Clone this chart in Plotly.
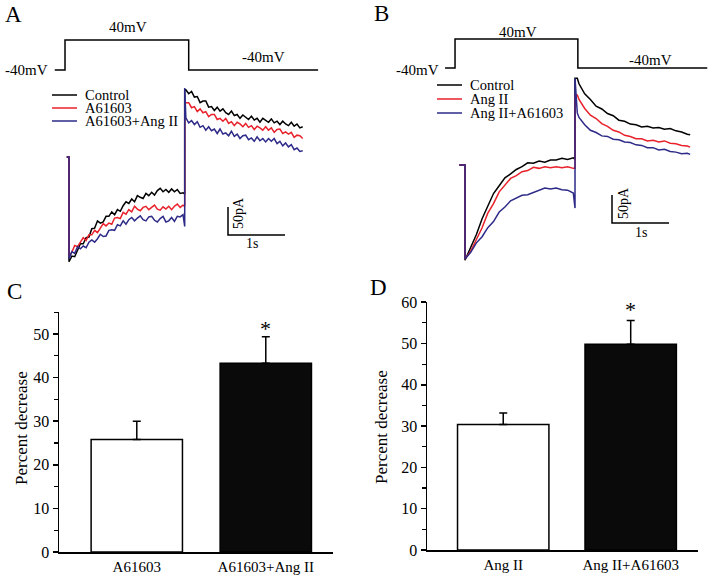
import plotly.graph_objects as go

# ---------------- Panel A data (time in s, current in pA) ----------------
A_names = ["Control", "A61603", "A61603+Ang II"]
A_hold_t = [-0.04, 0.0]
A_step_t = [0.00, 0.05, 0.10, 0.15, 0.20, 0.25, 0.30, 0.35, 0.40, 0.45,
            0.50, 0.55, 0.60, 0.65, 0.70, 0.75, 0.80, 0.85, 0.90, 0.95,
            1.00, 1.05, 1.10, 1.15, 1.20, 1.25, 1.30, 1.35, 1.40, 1.45,
            1.50, 1.55, 1.60, 1.65, 1.70, 1.75, 1.80, 1.85, 1.90, 1.95, 2.00]
A_step_end_t = 2.03
A_tail_t = [2.05, 2.10, 2.15, 2.20, 2.25, 2.30, 2.35, 2.40, 2.45, 2.50,
            2.55, 2.60, 2.65, 2.70, 2.75, 2.80, 2.85, 2.90, 2.95, 3.00,
            3.05, 3.10, 3.15, 3.20, 3.25, 3.30, 3.35, 3.40, 3.45, 3.50,
            3.55, 3.60, 3.65, 3.70, 3.75, 3.80, 3.85, 3.90, 3.95, 4.00,
            4.05, 4.10]
A_ctrl_step = [-187, -177, -178, -165, -155, -155, -144, -143, -128, -127,
               -114, -118, -116, -106, -106, -98, -103, -94, -97, -87,
               -80, -83, -75, -80, -69, -72, -74, -65, -69, -63,
               -68, -60, -56, -62, -58, -63, -57, -62, -58, -65, -64]
A_red_step = [-178, -170, -158, -160, -152, -144, -149, -139, -139, -131,
              -135, -126, -119, -123, -118, -120, -109, -108, -110, -99,
              -102, -94, -98, -88, -93, -96, -90, -88, -94, -90,
              -86, -93, -95, -89, -93, -88, -94, -88, -84, -90, -86]
A_blue_step = [-182, -169, -172, -160, -164, -159, -162, -152, -148, -152,
               -146, -138, -142, -141, -131, -130, -131, -121, -123, -114,
               -120, -112, -108, -114, -109, -105, -112, -114, -107, -106,
               -113, -116, -110, -106, -116, -114, -108, -115, -106, -107, -103]
A_ctrl_tail = [120, 113, 117, 107, 108, 97, 100, 100, 89, 90,
               83, 89, 82, 86, 79, 76, 82, 74, 76, 69,
               75, 71, 67, 73, 66, 69, 62, 69, 66, 62,
               68, 61, 64, 58, 64, 59, 56, 62, 55, 59,
               52, 54]
A_red_tail = [97, 97, 88, 90, 81, 86, 79, 81, 72, 76,
              76, 67, 69, 64, 69, 60, 63, 56, 62, 59,
              54, 60, 53, 56, 49, 55, 52, 48, 54, 48,
              52, 44, 49, 50, 42, 45, 41, 44, 35, 39,
              38, 33]
A_blue_tail = [70, 61, 65, 58, 63, 53, 56, 48, 54, 47,
               50, 42, 50, 41, 43, 38, 46, 37, 41, 33,
               38, 39, 31, 34, 28, 36, 29, 33, 27, 33,
               28, 33, 24, 28, 20, 25, 18, 22, 13, 16,
               10, 11]
A_spikes = [(-66, 120), (-88, 98), (-124, 123)]
A_volt_t = [-0.25, -0.07, -0.07, 2.10, 2.10, 4.37]
A_volt_mV = [-40, -40, 40, 40, -40, -40]

# ---------------- Panel B data ----------------
B_names = ["Control", "Ang II", "Ang II+A61603"]
B_hold_t = [-0.10, 0.0]
B_step_t = [0.0, 0.1, 0.2, 0.3, 0.4, 0.5, 0.6, 0.7, 0.8, 0.9,
            1.0, 1.1, 1.2, 1.3, 1.4, 1.5, 1.6, 1.7, 1.8, 1.9]
B_step_end_t = 1.93
B_tail_t = [1.97, 2.0, 2.1, 2.2, 2.3, 2.4, 2.5, 2.6, 2.7, 2.8, 2.9,
            3.0, 3.1, 3.2, 3.3, 3.4, 3.5, 3.6, 3.7, 3.8, 3.9, 3.95]
B_ctrl_step = [-170, -146, -124, -96, -75, -51, -37, -23, -16, -8,
               -3, 4, 3, 7, 5, 9, 9, 12, 10, 13]
B_red_step = [-168, -154, -133, -112, -86, -69, -48, -35, -24, -19,
              -12, -10, -4, -6, -3, -5, -3, -5, -3, -6]
B_blue_step = [-168, -156, -139, -128, -112, -101, -84, -75, -64, -59,
               -54, -53, -49, -46, -41, -43, -41, -44, -45, -50]
B_ctrl_tail = [155, 145, 127, 117, 105, 100, 92, 88, 80, 78, 73,
               72, 68, 69, 66, 67, 64, 65, 61, 59, 55, 54]
B_red_tail = [125, 117, 101, 89, 83, 74, 69, 62, 59, 53, 51,
              47, 47, 43, 44, 41, 43, 39, 38, 35, 34, 32]
B_blue_tail = [93, 85, 72, 62, 58, 52, 51, 46, 45, 41, 40,
               36, 35, 31, 31, 27, 28, 24, 23, 20, 21, 19]
B_spikes = [(10, 155), (-6, 125), (-77, 155)]
B_volt_t = [-0.35, -0.175, -0.175, 1.98, 1.98, 4.25]
B_volt_mV = [-40, -40, 40, 40, -40, -40]

SCALE_PA = 50
SCALE_S = 1

# ---------------- Panels C and D data ----------------
C_labels = ["A61603", "A61603+Ang II"]
C_values = [25.8, 43.3]
C_errors = [4.2, 6.1]
D_labels = ["Ang II", "Ang II+A61603"]
D_values = [30.4, 49.8]
D_errors = [2.8, 5.8]

# ---------------- styling / geometry ----------------
W, H = 709, 575
FONT = "Liberation Serif, Times New Roman, DejaVu Serif, serif"
BLACK = "#000000"
RED = "#e8212b"
BLUE = "#2d2a88"
COLORS = [BLACK, RED, BLUE]


def px(x):
    return x / W


def py(y):
    return 1 - y / H


fig = go.Figure()

PX_PER_S = 57.0
PX_PER_PA = 0.56

A_T0, A_I0 = 69, 157
A_XDOM = (40, 330)
A_YDOM = (28, 272)
A_V40, A_VPX = 70, 0.375
B_T0, B_I0 = 465, 165
B_XDOM = (410, 709)
B_YDOM = (18, 272)
B_V40, B_VPX = 68, 0.3625


def t_range(t0, dom):
    return [(dom[0] - t0) / PX_PER_S, (dom[1] - t0) / PX_PER_S]


def i_range(i0, dom):
    return [(i0 - dom[1]) / PX_PER_PA, (i0 - dom[0]) / PX_PER_PA]


def v_range(v40, vpx, dom):
    return [-40 + (v40 - dom[1]) / vpx, -40 + (v40 - dom[0]) / vpx]


# ---- traces A ----
A_steps = [A_ctrl_step, A_red_step, A_blue_step]
A_tails = [A_ctrl_tail, A_red_tail, A_blue_tail]
for name, col, st, tl, sp in zip(A_names, COLORS, A_steps, A_tails, A_spikes):
    xs = A_hold_t + A_step_t + [A_step_end_t, A_step_end_t] + A_tail_t
    ys = [0, 0] + st + [sp[0], sp[1]] + tl
    fig.add_trace(go.Scatter(x=xs, y=ys, mode="lines", name=name,
                             line=dict(color=col, width=1.5),
                             xaxis="x", yaxis="y"))
fig.add_trace(go.Scatter(x=A_volt_t, y=A_volt_mV, mode="lines",
                         line=dict(color=BLACK, width=1.5),
                         xaxis="x", yaxis="y2"))
A_sb_t = (228 - A_T0) / PX_PER_S
A_sb_i = (A_I0 - 235) / PX_PER_PA
fig.add_trace(go.Scatter(x=[A_sb_t, A_sb_t, A_sb_t + SCALE_S],
                         y=[A_sb_i + SCALE_PA, A_sb_i, A_sb_i],
                         mode="lines", line=dict(color=BLACK, width=1.5),
                         xaxis="x", yaxis="y"))

# ---- traces B ----
B_steps = [B_ctrl_step, B_red_step, B_blue_step]
B_tails = [B_ctrl_tail, B_red_tail, B_blue_tail]
for name, col, st, tl, sp in zip(B_names, COLORS, B_steps, B_tails, B_spikes):
    xs = B_hold_t + B_step_t + [B_step_end_t, B_step_end_t] + B_tail_t
    ys = [0, 0] + st + [sp[0], sp[1]] + tl
    fig.add_trace(go.Scatter(x=xs, y=ys, mode="lines", name=name,
                             line=dict(color=col, width=1.5),
                             xaxis="x3", yaxis="y3"))
fig.add_trace(go.Scatter(x=B_volt_t, y=B_volt_mV, mode="lines",
                         line=dict(color=BLACK, width=1.5),
                         xaxis="x3", yaxis="y4"))
B_sb_t = (612 - B_T0) / PX_PER_S
B_sb_i = (B_I0 - 223) / PX_PER_PA
fig.add_trace(go.Scatter(x=[B_sb_t, B_sb_t, B_sb_t + SCALE_S],
                         y=[B_sb_i + SCALE_PA, B_sb_i, B_sb_i],
                         mode="lines", line=dict(color=BLACK, width=1.5),
                         xaxis="x3", yaxis="y3"))

# ---- bars C and D ----
for labels, vals, errs, xa, ya, wdt in [(C_labels, C_values, C_errors, "x5", "y5", 0.708),
                                       (D_labels, D_values, D_errors, "x6", "y6", 0.717)]:
    fig.add_trace(go.Bar(x=labels, y=vals, width=wdt,
                         marker=dict(color=["#ffffff", "#0a0a0a"],
                                     line=dict(color=BLACK, width=1.5)),
                         error_y=dict(type="data", array=errs, arrayminus=[0, 0],
                                      symmetric=False, color=BLACK,
                                      thickness=1.5, width=4),
                         xaxis=xa, yaxis=ya))

hidden = dict(visible=False, showgrid=False, zeroline=False, fixedrange=True,
              automargin=False)

bar_y_common = dict(showline=True, linecolor=BLACK, linewidth=1.5,
                    ticks="outside", ticklen=5, tickwidth=1.5, tickcolor=BLACK,
                    showgrid=False, zeroline=False, automargin=False,
                    tickfont=dict(family=FONT, size=16, color=BLACK),
                    minor=dict(dtick=5, tick0=0, ticks="outside", ticklen=4,
                               tickwidth=1.2, tickcolor=BLACK, showgrid=False))
bar_x_common = dict(showline=True, linecolor=BLACK, linewidth=1.5,
                    ticks="", showgrid=False, zeroline=False, automargin=False,
                    tickfont=dict(family=FONT, size=15, color=BLACK))

fig.update_layout(
    template="none",
    width=W, height=H, autosize=False,
    margin=dict(l=0, r=0, t=0, b=0, pad=0),
    paper_bgcolor="white", plot_bgcolor="rgba(0,0,0,0)",
    showlegend=False,
    bargap=0,
    font=dict(family=FONT, color=BLACK),
    xaxis=dict(hidden, domain=[px(A_XDOM[0]), px(A_XDOM[1])],
               range=t_range(A_T0, A_XDOM), anchor="y"),
    yaxis=dict(hidden, domain=[py(A_YDOM[1]), py(A_YDOM[0])],
               range=i_range(A_I0, A_YDOM), anchor="x"),
    yaxis2=dict(hidden, overlaying="y", anchor="x",
                range=v_range(A_V40, A_VPX, A_YDOM)),
    xaxis3=dict(hidden, domain=[px(B_XDOM[0]), px(B_XDOM[1])],
                range=t_range(B_T0, B_XDOM), anchor="y3"),
    yaxis3=dict(hidden, domain=[py(B_YDOM[1]), py(B_YDOM[0])],
                range=i_range(B_I0, B_YDOM), anchor="x3"),
    yaxis4=dict(hidden, overlaying="y3", anchor="x3",
                range=v_range(B_V40, B_VPX, B_YDOM)),
    xaxis5=dict(bar_x_common, domain=[px(59), px(333)], range=[-0.603, 1.521],
                anchor="y5", type="category"),
    yaxis5=dict(bar_y_common, domain=[py(552), py(312)], range=[0, 55.05],
                tickvals=[0, 10, 20, 30, 40, 50], anchor="x5"),
    xaxis6=dict(bar_x_common, domain=[px(427), px(698)], range=[-0.598, 1.528],
                anchor="y6", type="category"),
    yaxis6=dict(bar_y_common, domain=[py(550), py(302)], range=[0, 60.05],
                tickvals=[0, 10, 20, 30, 40, 50, 60], anchor="x6"),
)

ann = []
shapes = []


def text(x, y, s, size=15, xanchor="center", yanchor="middle", angle=0, **kw):
    d = dict(x=x, y=y, text=s, showarrow=False, xanchor=xanchor, yanchor=yanchor,
             font=dict(family=FONT, size=size, color=BLACK), textangle=angle)
    d.update(kw)
    if "xref" not in d:
        d["xref"] = "paper"
        d["yref"] = "paper"
    ann.append(d)


text(px(13), py(15), "A", size=23)
text(px(381), py(14), "B", size=23)
text(px(15), py(291), "C", size=23)
text(px(379), py(287), "D", size=23)

text(px(128), py(27), "40mV")
text(px(50), py(70), "-40mV", xanchor="right")
text(px(263), py(57), "-40mV")
text(px(518), py(32), "40mV")
text(px(441), py(70), "-40mV", xanchor="right")
text(px(650), py(60), "-40mV")

text(px(238), py(213), "50pA", size=14, angle=-90)
text(px(252), py(243), "1s", size=14)
text(px(623), py(203), "50pA", size=14, angle=-90)
text(px(641), py(232), "1s", size=14)

for names, x0, x1, xt, rows in [(A_names, 52, 77, 83, [95, 108, 121]),
                                (B_names, 437, 462, 468, [85, 99, 113])]:
    for nm, col, r in zip(names, COLORS, rows):
        shapes.append(dict(type="line", xref="paper", yref="paper",
                           x0=px(x0), x1=px(x1), y0=py(r), y1=py(r),
                           line=dict(color=col, width=1.5)))
        text(px(xt), py(r), nm, size=14.5, xanchor="left")

text(px(21), py(428), "Percent decrease", size=17, angle=-90)
text(px(381), py(427), "Percent decrease", size=17, angle=-90)

text(1, C_values[1] + C_errors[1], "*", size=22, yanchor="middle",
     xref="x5", yref="y5", yshift=8)
text(1, D_values[1] + D_errors[1], "*", size=22, yanchor="middle",
     xref="x6", yref="y6", yshift=11)

fig.update_layout(annotations=ann, shapes=shapes)
fig.write_html("out.html",
               config={"displayModeBar": False, "staticPlot": True},
               post_script="document.body.style.margin='0';"
                           "document.body.style.padding='0';")
